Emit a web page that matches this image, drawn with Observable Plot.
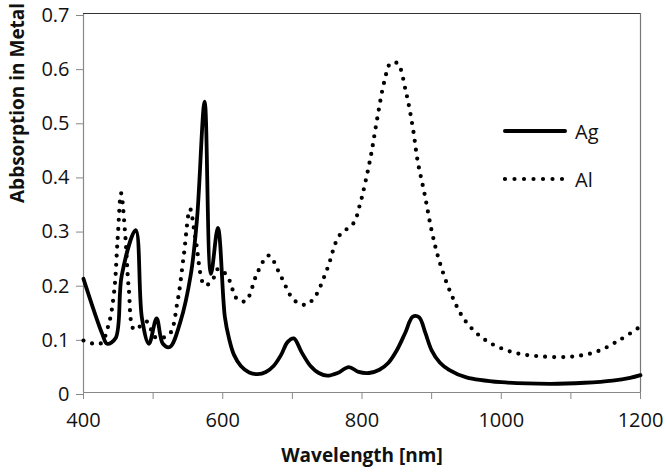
<!DOCTYPE html>
<html>
<head>
<meta charset="utf-8">
<script src="https://cdn.jsdelivr.net/npm/d3@7"></script>
<script src="https://cdn.jsdelivr.net/npm/@observablehq/plot@0.6"></script>
<style>
  body { margin: 0; background: #fff; }
  #wrap { position: relative; width: 666px; height: 474px; }
  #legend { position: absolute; left: 503px; top: 107px; font-family: "Open Sans", sans-serif; font-size: 20px; color: #111; }
  #legend .row { display: flex; align-items: center; height: 48px; }
  #legend svg { margin-right: 6px; }
</style>
</head>
<body>
<div id="wrap"><div id="chart"></div><div id="legend"></div></div>
<script>
// Wavelength (nm) and absorption for Ag
const agX = [400, 427, 434, 446, 455, 475, 484, 494, 505, 514, 524, 539, 554, 563, 574, 583, 593, 603, 609, 616, 626, 638, 650, 662, 673, 684, 693, 702, 713, 726, 738, 750, 765, 781, 795, 810, 825, 838, 850, 862, 873, 882, 891, 900, 912, 925, 950, 1000, 1070, 1120, 1160, 1185, 1200];
const agY = [0.21, 0.108, 0.09, 0.10, 0.217, 0.30, 0.137, 0.09, 0.137, 0.09, 0.084, 0.13, 0.217, 0.32, 0.537, 0.219, 0.304, 0.14, 0.10, 0.07, 0.049, 0.037, 0.034, 0.038, 0.049, 0.07, 0.093, 0.10, 0.075, 0.049, 0.036, 0.031, 0.036, 0.047, 0.038, 0.036, 0.042, 0.055, 0.078, 0.11, 0.14, 0.139, 0.11, 0.078, 0.055, 0.042, 0.028, 0.019, 0.016, 0.018, 0.022, 0.027, 0.032];
// Wavelength (nm) and absorption for Al
const alX = [400, 424, 436, 444, 449, 454, 460, 465, 473, 491, 503, 523, 535, 544, 553, 561, 574, 585, 593, 606, 621, 633, 650, 666, 683, 702, 718, 731, 750, 767, 788, 797, 803, 813, 822, 832, 841, 851, 863, 873, 880, 890, 900, 911, 928, 948, 977, 1015, 1054, 1098, 1136, 1170, 1200];
const alY = [0.096, 0.09, 0.125, 0.186, 0.283, 0.368, 0.29, 0.192, 0.116, 0.131, 0.102, 0.107, 0.168, 0.253, 0.339, 0.283, 0.198, 0.207, 0.228, 0.216, 0.172, 0.169, 0.222, 0.253, 0.216, 0.171, 0.162, 0.174, 0.228, 0.289, 0.313, 0.347, 0.378, 0.439, 0.507, 0.574, 0.608, 0.608, 0.556, 0.489, 0.427, 0.366, 0.299, 0.243, 0.182, 0.133, 0.097, 0.075, 0.067, 0.066, 0.075, 0.097, 0.122];

const xTicks = [400, 500, 600, 700, 800, 900, 1000, 1100, 1200];
const xLabels = [400, 600, 800, 1000, 1200];
const yTicks = [0, 0.1, 0.2, 0.3, 0.4, 0.5, 0.6, 0.7];
const seriesNames = ["Ag", "Al"];

const ag = agX.map((x, i) => ({x, y: agY[i]}));
const al = alX.map((x, i) => ({x, y: alY[i]}));

const font = "'Open Sans', sans-serif";
const chart = Plot.plot({
  width: 666,
  height: 474,
  marginLeft: 83,
  marginRight: 26,
  marginTop: 13,
  marginBottom: 82,
  style: {fontFamily: font, fontSize: "20px", color: "#111", background: "#fff"},
  x: {domain: [400, 1200]},
  y: {domain: [0, 0.7]},
  marks: [
    Plot.ruleX([400], {stroke: "#888", strokeWidth: 1.2}),
    Plot.ruleY([0], {stroke: "#888", strokeWidth: 1.2}),
    Plot.ruleY([0.7], {stroke: "#333", strokeWidth: 1.2}),
    Plot.ruleX([1200], {stroke: "#777", strokeWidth: 1.2}),
    Plot.axisY(yTicks, {tickSize: 7, tickPadding: 7, stroke: "#888", fill: "#111", label: null, dy: 2, tickFormat: d => String(d)}),
    Plot.axisX(xTicks, {tickSize: 7, tickPadding: 13, stroke: "#888", fill: "#111", label: null,
      tickFormat: d => xLabels.includes(d) ? String(d) : ""}),
    Plot.text(["Abbsorption in Metal"], {frameAnchor: "left", dx: -66, rotate: -90, fontWeight: "bold", fontSize: 19, fill: "#111"}),
    Plot.text(["Wavelength [nm]"], {frameAnchor: "bottom", dy: 69, fontWeight: "bold", fontSize: 19, fill: "#111"}),
    Plot.line(al, {x: "x", y: "y", curve: "catmull-rom", stroke: "#000", strokeWidth: 4.2, strokeDasharray: "0 9", strokeLinecap: "round", strokeLinejoin: "round"}),
    Plot.line(ag, {x: "x", y: "y", curve: "catmull-rom", stroke: "#000", strokeWidth: 3.8, strokeLinejoin: "round"})
  ]
});
document.getElementById("chart").appendChild(chart);

// legend
const leg = d3.select("#legend");
seriesNames.forEach((name, i) => {
  const row = leg.append("div").attr("class", "row");
  const s = row.append("svg").attr("width", 66).attr("height", 10);
  s.append("line").attr("x1", 2).attr("x2", 62).attr("y1", 5).attr("y2", 5)
    .attr("stroke", "#000").attr("stroke-width", i === 0 ? 4 : 4.2)
    .attr("stroke-linecap", "round")
    .attr("stroke-dasharray", i === 0 ? null : "0 9.5");
  row.append("span").text(name);
});
</script>
</body>
</html>
